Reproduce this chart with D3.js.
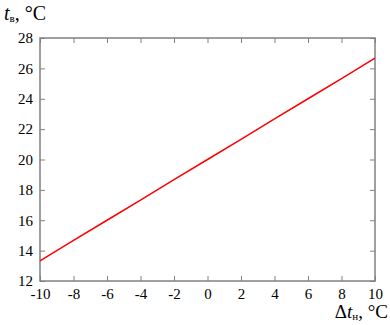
<!DOCTYPE html>
<html><head><meta charset="utf-8">
<script src="https://cdn.jsdelivr.net/npm/d3@7"></script>
<style>body{margin:0;background:#fff}svg{display:block}</style>
</head><body>
<svg id="c" width="390" height="325"></svg>
<script>
const xValues = [-10, -8, -6, -4, -2, 0, 2, 4, 6, 8, 10];
const yValues = [13.33, 14.67, 16.0, 17.33, 18.67, 20.0, 21.33, 22.67, 24.0, 25.33, 26.67];
const xTicks = [-10, -8, -6, -4, -2, 0, 2, 4, 6, 8, 10];
const yTicks = [12, 14, 16, 18, 20, 22, 24, 26, 28];

const svg = d3.select("#c");
const L = 40, R = 375, T = 38, B = 281;
const x = d3.scaleLinear().domain([-10, 10]).range([L, R]);
const y = d3.scaleLinear().domain([12, 28]).range([B, T]);
const font = "Liberation Serif, serif";
const frame = "#808080";
const fmt = d => String(d);

function styleAxis(g){
  g.attr("font-family", font);
  g.select(".domain").remove();
  g.selectAll(".tick line").attr("stroke", frame);
  g.selectAll(".tick text").attr("font-family", font).attr("font-size", 15).attr("fill", "#000");
}
svg.append("g").attr("transform", `translate(0,${B})`)
  .call(d3.axisBottom(x).tickValues(xTicks).tickSize(-5).tickPadding(7).tickFormat(fmt))
  .call(styleAxis);
svg.append("g").attr("transform", `translate(0,${T})`)
  .call(d3.axisTop(x).tickValues(xTicks).tickSize(-5).tickFormat(""))
  .call(styleAxis);
svg.append("g").attr("transform", `translate(${L},0)`)
  .call(d3.axisLeft(y).tickValues(yTicks).tickSize(-5).tickPadding(7).tickFormat(fmt))
  .call(styleAxis);
svg.append("g").attr("transform", `translate(${R},0)`)
  .call(d3.axisRight(y).tickValues(yTicks).tickSize(-5).tickFormat(""))
  .call(styleAxis);

svg.append("rect").attr("x", L).attr("y", T).attr("width", R-L).attr("height", B-T)
  .attr("fill", "none").attr("stroke", frame).attr("stroke-width", 1.5);

const data = xValues.map((v,i)=>[v, yValues[i]]);
svg.append("path").datum(data)
  .attr("d", d3.line().x(d=>x(d[0])).y(d=>y(d[1])))
  .attr("fill", "none").attr("stroke", "#ff0000").attr("stroke-width", 1.5);

const yt = svg.append("text").attr("x", 4).attr("y", 20).attr("font-family", font).attr("font-size", 20).attr("fill", "#000");
yt.append("tspan").attr("font-style", "italic").text("t");
yt.append("tspan").attr("font-size", 11).attr("dy", 2).text("в");
yt.append("tspan").attr("dy", -2).text(", °C");

const xt = svg.append("text").attr("x", 388).attr("y", 318).attr("text-anchor", "end").attr("font-family", font).attr("font-size", 19).attr("fill", "#000");
xt.append("tspan").text("Δ");
xt.append("tspan").attr("font-style", "italic").text("t");
xt.append("tspan").attr("font-size", 11).attr("dy", 2).text("н");
xt.append("tspan").attr("dy", -2).text(", °C");
</script>
</body></html>
